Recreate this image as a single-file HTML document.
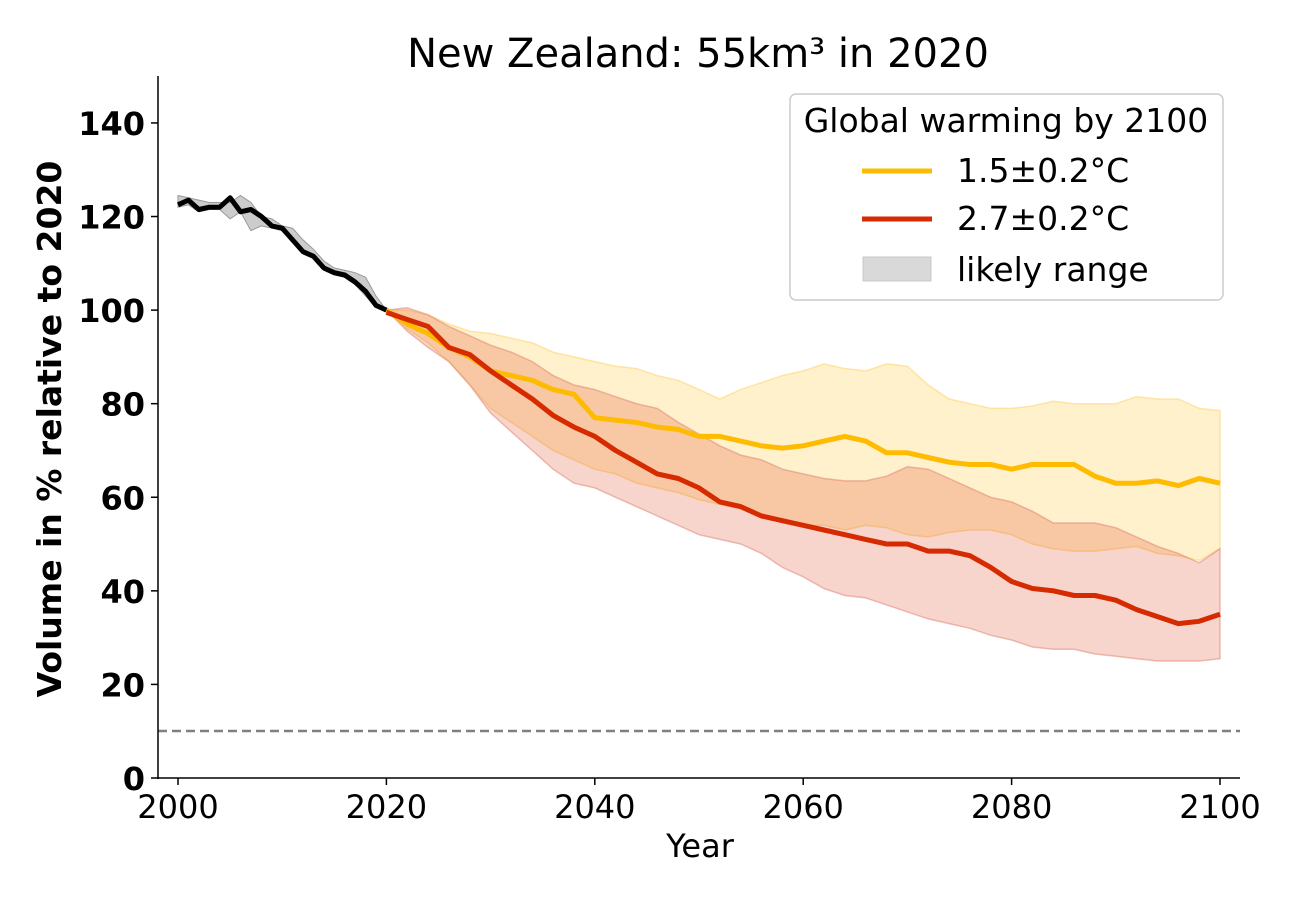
<!DOCTYPE html>
<html><head><meta charset="utf-8"><style>
body{margin:0;background:#fff;}
svg text{font-family:"DejaVu Sans","Liberation Sans",sans-serif;}
</style></head><body>
<svg id="chart" width="1300" height="900" xmlns="http://www.w3.org/2000/svg">
<text x="698" y="67" font-size="40" text-anchor="middle">New Zealand: 55km³ in 2020</text>
<g id="bands"></g><g id="lines"></g>
<line x1="158" y1="731" x2="1240" y2="731" stroke="#808080" stroke-width="2.5" stroke-dasharray="9,5"/>
<line x1="158" y1="76" x2="158" y2="779" stroke="#000" stroke-width="1.5"/>
<line x1="157" y1="778" x2="1240" y2="778" stroke="#000" stroke-width="1.5"/>
<g id="ticks"></g>
<text x="700" y="857" font-size="32" text-anchor="middle">Year</text>
<text transform="translate(61,429) rotate(-90)" font-size="33" font-weight="bold" text-anchor="middle">Volume in % relative to 2020</text>
<g>
<rect x="790" y="94" width="433" height="206" rx="6" fill="#fff" fill-opacity="0.8" stroke="#ccc" stroke-width="1.5"/>
<text x="1006" y="132" font-size="33" text-anchor="middle">Global warming by 2100</text>
<line x1="862" y1="171" x2="932" y2="171" stroke="#ffbb00" stroke-width="5"/>
<text x="957" y="182" font-size="33">1.5±0.2°C</text>
<line x1="862" y1="219" x2="932" y2="219" stroke="#d62a00" stroke-width="5"/>
<text x="957" y="230" font-size="33">2.7±0.2°C</text>
<rect x="863" y="257" width="68" height="24" fill="#d9d9d9" stroke="#c8c8c8"/>
<text x="957" y="281" font-size="33">likely range</text>
</g>
</svg>
<script>
const histYears=[2000,2001,2002,2003,2004,2005,2006,2007,2008,2009,2010,2011,2012,2013,2014,2015,2016,2017,2018,2019,2020];
const histVals=[122.5,123.5,121.5,122,122,124,121,121.5,120,118,117.5,115,112.5,111.5,109,108,107.5,106,104,101,100];
const histUp=[124.5,124,123.5,123,123,123,124.5,123,120,119.5,118,117.5,115,113,110.5,109,108.5,108,107,103,100];
const histLo=[122,122.5,121,121.5,121.5,119.5,121,117,118,117.5,117,114.5,112,111,108.5,107.5,107,105.5,103,100.5,100];
const projYears=[2020,2022,2024,2026,2028,2030,2032,2034,2036,2038,2040,2042,2044,2046,2048,2050,2052,2054,2056,2058,2060,2062,2064,2066,2068,2070,2072,2074,2076,2078,2080,2082,2084,2086,2088,2090,2092,2094,2096,2098,2100];
const y15=[100,97,95,92,90,87,86,85,83,82,77,76.5,76,75,74.5,73,73,72,71,70.5,71,72,73,72,69.5,69.5,68.5,67.5,67,67,66,67,67,67,64.5,63,63,63.5,62.5,64,63];
const y15up=[100,100,99,97,95.5,95,94,93,91,90,89,88,87.5,86,85,83,81,83,84.5,86,87,88.5,87.5,87,88.5,88,84,81,80,79,79,79.5,80.5,80,80,80,81.5,81,81,79,78.5];
const y15lo=[100,96,93,89,84,79,76,73,70,68,66,65,63,62,61,59.5,58.5,57.5,56,55,54,54,53,54,53.5,52,51.5,52.5,53,53,52,50,49,48.5,48.5,49,49.5,48,47.5,46.5,49];
const y27=[99.5,98,96.5,92,90.5,87,84,81,77.5,75,73,70,67.5,65,64,62,59,58,56,55,54,53,52,51,50,50,48.5,48.5,47.5,45,42,40.5,40,39,39,38,36,34.5,33,33.5,35];
const y27up=[100,100.5,99,96.5,94.5,92.5,91,89,86,84,83,81.5,80,79,76,73.5,71,69,68,66,65,64,63.5,63.5,64.5,66.5,66,64,62,60,59,57,54.5,54.5,54.5,53.5,51.5,49.5,48,46,49];
const y27lo=[100,95.5,92,89,84,78,74,70,66,63,62,60,58,56,54,52,51,50,48,45,43,40.5,39,38.5,37,35.5,34,33,32,30.5,29.5,28,27.5,27.5,26.5,26,25.5,25,25,25,25.5];
const xTicks=[2000,2020,2040,2060,2080,2100];
const yTicks=[0,20,40,60,80,100,120,140];
const X=yr=>178+(yr-2000)*10.42;
const Y=v=>778-v*4.679;
const NS="http://www.w3.org/2000/svg";
function mk(parent,tag,attrs){const e=document.createElementNS(NS,tag);for(const k in attrs)e.setAttribute(k,attrs[k]);document.getElementById(parent).appendChild(e);return e;}
function linePts(xs,vs){return xs.map((x,i)=>X(x).toFixed(1)+","+Y(vs[i]).toFixed(1)).join(" ");}
function bandPts(xs,up,lo){return linePts(xs,up)+" "+xs.map((x,i)=>[x,lo[i]]).reverse().map(p=>X(p[0]).toFixed(1)+","+Y(p[1]).toFixed(1)).join(" ");}
let b;
b=mk("bands","polygon",{points:bandPts(histYears,histUp,histLo),fill:"#000","fill-opacity":"0.2",stroke:"#999","stroke-width":"1"});


b=mk("bands","polygon",{points:bandPts(projYears,y15up,y15lo),fill:"#ffbb00","fill-opacity":"0.2",stroke:"#ffd060","stroke-opacity":"0.5","stroke-width":"1.5"});


b=mk("bands","polygon",{points:bandPts(projYears,y27up,y27lo),fill:"#d62a00","fill-opacity":"0.2",stroke:"#e08070","stroke-opacity":"0.5","stroke-width":"1.5"});


let l;
l=mk("lines","polyline",{points:linePts(projYears,y15),fill:"none",stroke:"#ffbb00","stroke-width":"5","stroke-linejoin":"round"});


l=mk("lines","polyline",{points:linePts(projYears,y27),fill:"none",stroke:"#d62a00","stroke-width":"5","stroke-linejoin":"round"});


l=mk("lines","polyline",{points:linePts(histYears,histVals),fill:"none",stroke:"#000","stroke-width":"5","stroke-linejoin":"round"});


xTicks.forEach(t=>{
  const tk=mk("ticks","line",{x1:X(t),x2:X(t),y1:778,y2:785,stroke:"#000","stroke-width":"1.5"});
  
  
  const tx=mk("ticks","text",{x:X(t),y:818,"font-size":"32","text-anchor":"middle"});
  tx.textContent=t;
  
  
});
yTicks.forEach(t=>{
  const tk=mk("ticks","line",{x1:151,x2:158,y1:Y(t),y2:Y(t),stroke:"#000","stroke-width":"1.5"});
  
  
  const tx=mk("ticks","text",{x:145,y:Y(t)+12,"font-size":"32","font-weight":"bold","text-anchor":"end"});
  tx.textContent=t;
  
  
});
</script>
</body></html>
